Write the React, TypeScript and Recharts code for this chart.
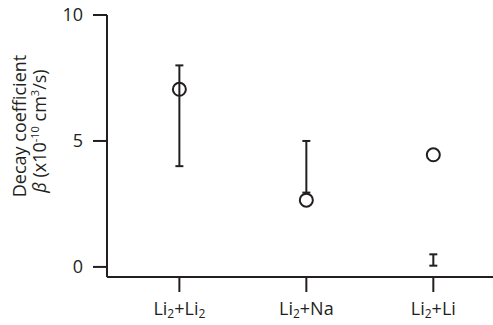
import { ComposedChart, Scatter, ErrorBar, XAxis, YAxis } from 'recharts';

const categories = ['Li2+Li2', 'Li2+Na', 'Li2+Li'];
const positions = [1, 2, 3];
const betaValues = [7.05, 2.65, 4.45];
const rangeLow = [4.0, 2.95, 0.05];
const rangeHigh = [8.0, 5.0, 0.5];
const yTicks = [0, 5, 10];

const INK = '#231f20';
const FONT = '"Open Sans", "Liberation Sans", sans-serif';

const pointData = positions.map((x, i) => ({ x, beta: betaValues[i] }));
const rangeData = positions.map((x, i) => ({
  x,
  mid: (rangeLow[i] + rangeHigh[i]) / 2,
  err: (rangeHigh[i] - rangeLow[i]) / 2,
}));

// splits "Li2+Li2" into plain text and subscript digits
function CategoryTick(props: any) {
  const { x, y, payload } = props;
  const idx = positions.indexOf(payload.value);
  const label = categories[idx] ?? '';
  const parts = label.split(/(2)/).filter((p) => p !== '');
  return (
    <text x={x} y={y + 21} textAnchor="middle" fill={INK} fontSize={18} fontFamily={FONT}>
      {parts.map((p, i) =>
        p === '2' ? (
          <tspan key={i} fontSize={12} dy={3}>
            {p}
          </tspan>
        ) : i > 0 ? (
          <tspan key={i} dy={-3}>
            {p}
          </tspan>
        ) : (
          <tspan key={i}>{p}</tspan>
        )
      )}
    </text>
  );
}

function YTitle() {
  return (
    <g fill={INK} fontFamily={FONT} fontSize={18}>
      <text x={26} y={126} textAnchor="middle" transform="rotate(-90, 26, 126)">
        Decay coefficient
      </text>
      <text x={46} y={131} textAnchor="middle" transform="rotate(-90, 46, 131)">
        <tspan fontStyle="italic">β</tspan>
        <tspan> (x10</tspan>
        <tspan fontSize={11} dy={-7}>-10</tspan>
        <tspan dy={7}> cm</tspan>
        <tspan fontSize={11} dy={-7}>3</tspan>
        <tspan dy={7}>/s)</tspan>
      </text>
    </g>
  );
}

const OpenCircle = (props: any) => {
  const { cx, cy } = props;
  return <circle cx={cx} cy={cy} r={6.5} fill="none" stroke={INK} strokeWidth={2} />;
};

const NoShape = () => <g />;

export default function App() {
  return (
    <div style={{ position: 'absolute', left: 0, top: 0, width: 493, height: 325, background: '#fff' }}>
      <ComposedChart width={493} height={325} margin={{ top: 15, right: 0, bottom: 10, left: 0 }}>
        <XAxis
          dataKey="x"
          type="number"
          domain={[0.43, 3.47]}
          ticks={positions}
          allowDataOverflow
          height={38}
          tickSize={15}
          tickMargin={2}
          axisLine={{ stroke: INK, strokeWidth: 2 }}
          tickLine={{ stroke: INK, strokeWidth: 2 }}
          tick={<CategoryTick />}
        />
        <YAxis
          type="number"
          domain={[-0.4, 10]}
          ticks={yTicks}
          allowDataOverflow
          width={107}
          tickSize={14}
          tickMargin={10}
          axisLine={{ stroke: INK, strokeWidth: 2 }}
          tickLine={{ stroke: INK, strokeWidth: 2 }}
          tick={{ fill: INK, fontSize: 18, fontFamily: FONT }}
        />
        <Scatter data={rangeData} dataKey="mid" shape={<NoShape />} isAnimationActive={false}>
          <ErrorBar dataKey="err" direction="y" width={4} stroke={INK} strokeWidth={2} isAnimationActive={false} />
        </Scatter>
        <Scatter data={pointData} dataKey="beta" shape={<OpenCircle />} isAnimationActive={false} />
      </ComposedChart>
      <svg width={107} height={325} style={{ position: 'absolute', left: 0, top: 0, pointerEvents: 'none' }}>
        <YTitle />
      </svg>
    </div>
  );
}
